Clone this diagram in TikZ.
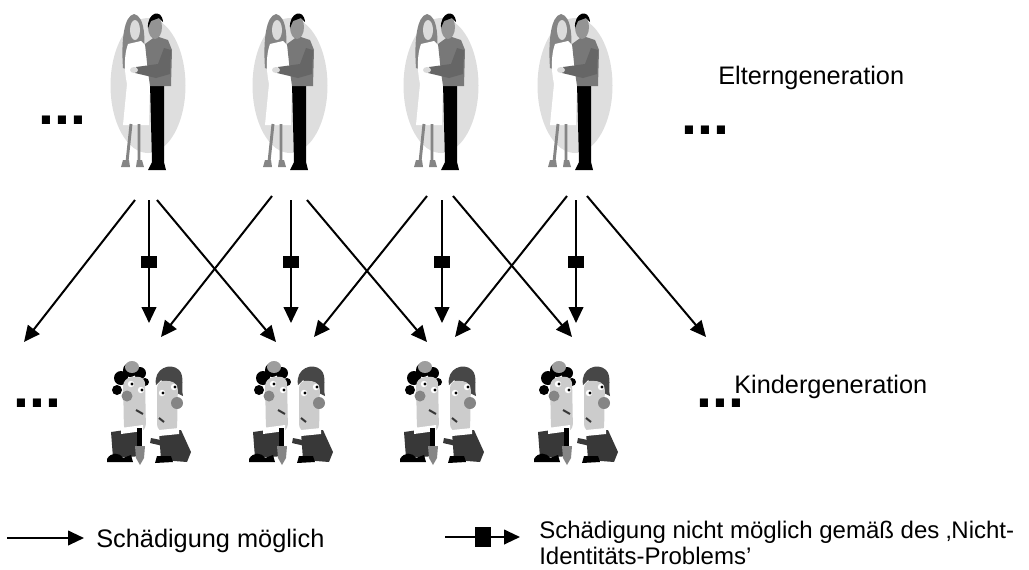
\documentclass[tikz,border=0pt]{standalone}
\usepackage{fontspec}
\setmainfont{Liberation Sans}
\usepackage{xcolor}
\usepackage{tikz}
\usetikzlibrary{arrows.meta}

\definecolor{halo}{gray}{0.87}
\definecolor{hairgray}{gray}{0.52}
\definecolor{skin}{gray}{0.86}
\definecolor{manface}{gray}{0.58}
\definecolor{shirt}{gray}{0.47}
\definecolor{sleeve}{gray}{0.40}
\definecolor{kidface}{gray}{0.80}
\definecolor{cheek}{gray}{0.52}
\definecolor{coat}{gray}{0.22}
\definecolor{darkhair}{gray}{0.28}
\definecolor{hat}{gray}{0.62}

\tikzset{
  harm/.style={-{Triangle[length=12pt,width=11pt]}, line width=1.5pt},
  plug/.style={fill=black, inner sep=0pt, minimum width=12.5pt, minimum height=9pt},
  legplug/.style={fill=black, inner sep=0pt, minimum width=12pt, minimum height=15pt},
  lbl/.style={font=\fontsize{19}{23}\selectfont, inner sep=0pt, anchor=base west},
  leglbl/.style={font=\fontsize{18}{22}\selectfont, inner sep=0pt, anchor=base west},
  dots/.style={font=\fontsize{43}{43}\selectfont\bfseries, inner sep=0pt, anchor=base west},
  couple/.pic={
    \fill[halo] (0,85.5) ellipse [x radius=37.5, y radius=67.5];
    % woman
    \fill[hairgray] (-14,14) .. controls (-24,16) and (-27,40) .. (-25,68) -- (-19,70) -- (-17,46) -- (-8,44) -- (-5,62) .. controls (-2,40) and (-3,16) .. (-14,14) -- cycle;
    \fill[skin] (-13,30) ellipse [x radius=5, y radius=10];
    \fill[white] (-20,44) -- (-7,41) .. controls (6,52) and (8,72) .. (2,84) -- (1,125) -- (-25,125) -- (-21,84) .. controls (-24,70) and (-24,55) .. (-20,44) -- cycle;
    \draw[hairgray, line width=2.2pt] (-17,124) -- (-21,162) (-9,124) -- (-9,162);
    \fill[hairgray] (-25,160) -- (-19,160) -- (-18,167) -- (-27,167) -- cycle;
    \fill[hairgray] (-11,160) -- (-6,160) -- (-4,167) -- (-12,167) -- cycle;
    % man
    \fill[black] (2,83) -- (16,83) -- (16,162) -- (18,170) -- (0,170) -- (4,162) -- cycle;
    \fill[shirt] (-3,44) -- (8,36) -- (20,40) -- (24,50) -- (23,86) -- (2,86) -- (0,72) -- cycle;
    \fill[sleeve] (16,48) -- (23,50) -- (22,74) -- (8,78) -- (-13,73) -- (-12,67) -- (10,64) -- cycle;
    \fill[skin] (-14,70) ellipse [x radius=4, y radius=3];
    \fill[manface] (7,27) ellipse [x radius=7, y radius=12];
    \fill[black] (0,28) .. controls (-1,12) and (14,8) .. (15,22) -- (11,18) -- (3,21) -- cycle;
  },
  kids/.pic={
    % left child
    \fill[black] (-30,378) circle (7) (-21,370) circle (7) (-11,373) circle (6) (-34,390) circle (5) (-6,382) circle (4);
    \fill[hat] (-19,367) ellipse [x radius=7, y radius=6];
    \fill[kidface, rounded corners=6] (-28,378) -- (-6,376) -- (-5,432) -- (-27,433) -- cycle;
    \fill[cheek] (-24,396) circle (5.5);
    \fill[white] (-20,384) circle (3.2) (-10,390) circle (3.2);
    \fill[black] (-19,384) circle (1.6) (-9,390) circle (1.6);
    \draw[coat, line width=1.5pt] (-15,410) -- (-8,414);
    \fill[coat] (-40,432) -- (-12,428) -- (-9,456) -- (-38,458) -- cycle;
    \fill[white] (-30,428) -- (-8,425) -- (-8,431) -- (-30,434) -- cycle;
    \fill[black] (-44,459) .. controls (-40,452) and (-32,452) .. (-28,458) -- (-20,455) -- (-18,462) -- (-44,462) -- cycle;
    \fill[black] (-14,428) rectangle (-9,448);
    \fill[hairgray] (-16,446) -- (-6,446) -- (-7,458) -- (-11,465) -- (-15,458) -- cycle;
    % right child
    \fill[darkhair] (5,385) .. controls (2,368) and (20,362) .. (28,370) .. controls (34,376) and (30,388) .. (32,396) -- (24,392) -- (10,380) -- cycle;
    \fill[kidface, rounded corners=6] (6,380) -- (27,382) -- (26,434) -- (6,432) -- cycle;
    \fill[cheek] (26,403) circle (6);
    \fill[white] (11,393) circle (3.2) (23,387) circle (3.2);
    \fill[black] (12,393) circle (1.6) (24,387) circle (1.6);
    \draw[coat, line width=1.5pt] (8,418) -- (13,422);
    \fill[coat] (10,440) -- (0,438) -- (-1,443) -- (12,446) -- cycle;
    \fill[coat] (8,432) -- (30,430) -- (40,452) -- (36,462) -- (10,460) -- cycle;
    \fill[white] (8,430) -- (28,428) -- (28,434) -- (8,436) -- cycle;
    \fill[black] (6,456) -- (20,456) -- (22,462) -- (4,463) -- cycle;
  }
}

\begin{document}
\begin{tikzpicture}[x=0.75pt, y=-0.75pt]
\useasboundingbox (0,0) rectangle (1029,569);

% parents
\pic (cpl1) at (148,0) {couple};
\pic (cpl2) at (290,0) {couple};
\pic (cpl3) at (441,0) {couple};
\pic (cpl4) at (575,0) {couple};

% children
\pic (kid1) at (151,0) {kids};
\pic (kid2) at (293,0) {kids};
\pic (kid3) at (444,0) {kids};
\pic (kid4) at (578,0) {kids};

\node[dots] (dotsTL) at (38,124) {...};
\node[dots] (dotsTR) at (681,134) {...};
\node[dots] (dotsBL) at (13,407) {...};
\node[dots] (dotsBR) at (696,407) {...};

\node[lbl] (eltern) at (718,84) {Elterngeneration};
\node[lbl] (kinder) at (734,393) {Kindergeneration};

% arrow ends
\coordinate (e1L) at (135,200); \coordinate (k1L) at (24,342);
\coordinate (e1M) at (149,200); \coordinate (k1M) at (149,323);
\coordinate (e1R) at (157,200); \coordinate (k1R) at (276,342);
\coordinate (e2L) at (272,196); \coordinate (k2L) at (161,337);
\coordinate (e2M) at (291,200); \coordinate (k2M) at (291,323);
\coordinate (e2R) at (307,200); \coordinate (k2R) at (427,342);
\coordinate (e3L) at (427,196); \coordinate (k3L) at (314,337);
\coordinate (e3M) at (442,200); \coordinate (k3M) at (442,323);
\coordinate (e3R) at (453,196); \coordinate (k3R) at (572,337);
\coordinate (e4L) at (567,196); \coordinate (k4L) at (455,337);
\coordinate (e4M) at (576,200); \coordinate (k4M) at (576,323);
\coordinate (e4R) at (587,196); \coordinate (k4R) at (706,337);

\draw[harm] (e1L) -- (k1L);
\draw[harm] (e1M) -- node[plug] (pl1) {} (k1M);
\draw[harm] (e1R) -- (k1R);
\draw[harm] (e2L) -- (k2L);
\draw[harm] (e2M) -- node[plug] (pl2) {} (k2M);
\draw[harm] (e2R) -- (k2R);
\draw[harm] (e3L) -- (k3L);
\draw[harm] (e3M) -- node[plug] (pl3) {} (k3M);
\draw[harm] (e3R) -- (k3R);
\draw[harm] (e4L) -- (k4L);
\draw[harm] (e4M) -- node[plug] (pl4) {} (k4M);
\draw[harm] (e4R) -- (k4R);

% legend
\coordinate (lg1a) at (7,538);   \coordinate (lg1b) at (84,538);
\coordinate (lg2a) at (445,537); \coordinate (lg2b) at (520,537);
\draw[harm] (lg1a) -- (lg1b);
\draw[harm] (lg2a) -- node[legplug] (lgpl) {} (lg2b);
\node[lbl] (leg1) at (96,547) {Schädigung möglich};
\node[leglbl] (leg2) at (539,538) {Schädigung nicht möglich gemäß des ‚Nicht-};
\node[leglbl] (leg3) at (539,564) {Identitäts-Problems'};
\end{tikzpicture}
\end{document}
